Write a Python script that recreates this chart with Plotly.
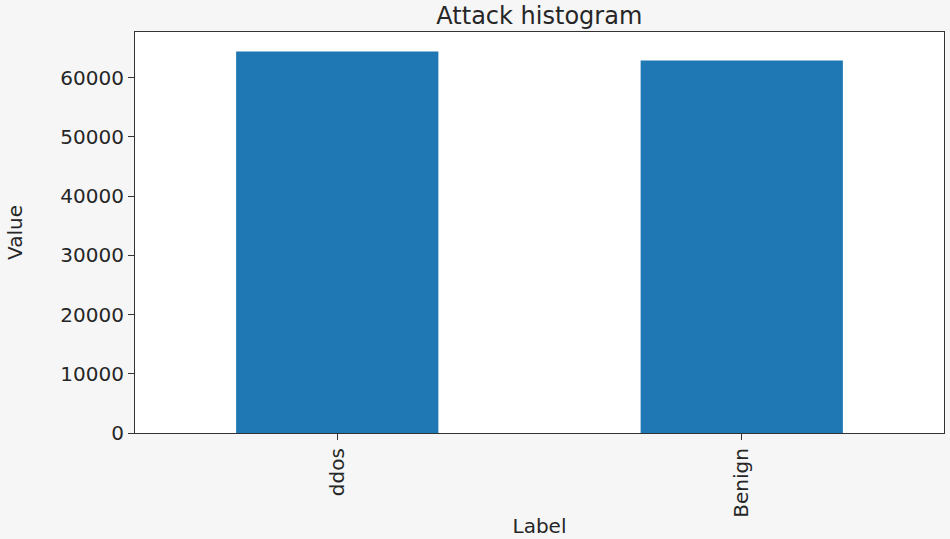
import plotly.graph_objects as go

labels = ["ddos", "Benign"]
counts = [64400, 62900]
y_ticks = [0, 10000, 20000, 30000, 40000, 50000, 60000]

fig = go.Figure()
fig.add_trace(go.Bar(
    x=labels,
    y=counts,
    width=0.5,
    marker=dict(color="#1f77b4", line=dict(width=0)),
))

axis_style = dict(
    showline=True,
    linecolor="#333333",
    linewidth=1.2,
    mirror=True,
    ticks="outside",
    ticklen=6,
    tickcolor="#333333",
    showgrid=False,
    zeroline=False,
    tickfont=dict(family="DejaVu Sans", size=20, color="#262626"),
)

fig.update_layout(
    width=950,
    height=539,
    margin=dict(l=135, r=6, t=32, b=106),
    paper_bgcolor="#f6f6f6",
    plot_bgcolor="white",
    showlegend=False,
    title=dict(
        text="Attack histogram",
        x=0.5677, xanchor="center",
        y=0.986, yanchor="top",
        font=dict(family="DejaVu Sans", size=24, color="#262626"),
    ),
    xaxis=dict(
        axis_style,
        range=[-0.5, 1.5],
        tickangle=-90,
        title=dict(text="Label", standoff=2,
                   font=dict(family="DejaVu Sans", size=20, color="#262626")),
    ),
    yaxis=dict(
        axis_style,
        range=[0, 67700],
        tickvals=y_ticks,
        tickformat="d",
        title=dict(text="Value", standoff=32,
                   font=dict(family="DejaVu Sans", size=20, color="#262626")),
    ),
)

# drop the page's default body margin so the figure sits at the top-left corner
fig.write_html("out.html", config={"displayModeBar": False},
               post_script="document.body.style.margin='0';")
